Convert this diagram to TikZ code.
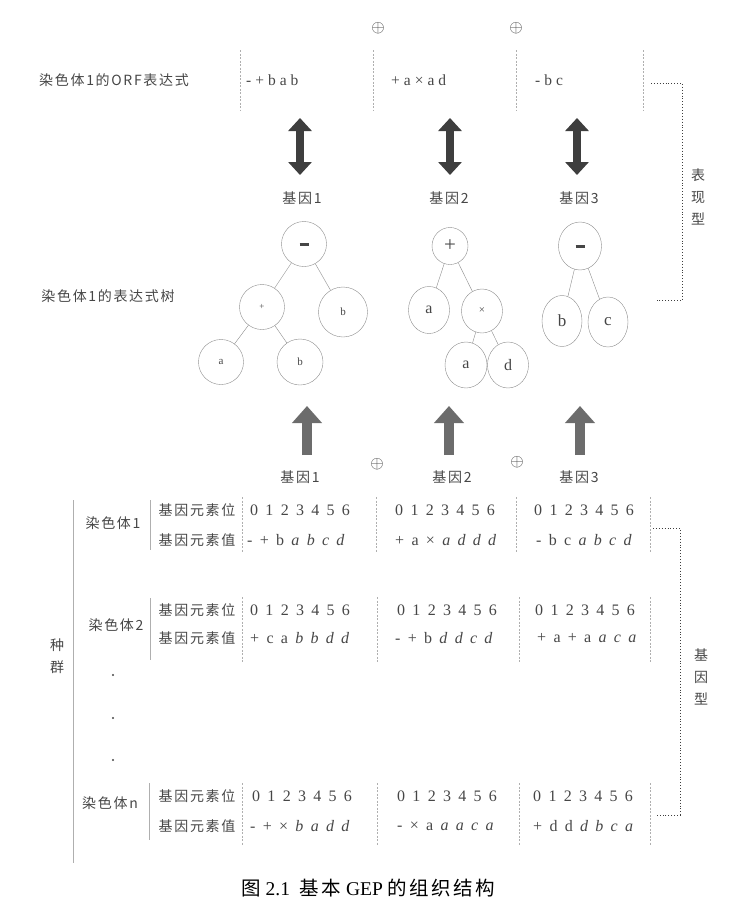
\documentclass[tikz,border=0pt]{standalone}
\usepackage{fontspec}
\setmainfont{Liberation Serif}
\newfontfamily\cjk{Noto Sans CJK SC}[LetterSpace=12]
\usetikzlibrary{arrows.meta,shapes.geometric}
\definecolor{geInk}{RGB}{70,70,70}
\definecolor{geLine}{RGB}{140,140,140}
\definecolor{geSepc}{RGB}{175,175,175}
\definecolor{geDark}{RGB}{62,62,62}
\definecolor{geUpc}{RGB}{108,108,108}
\newcommand\geWide{\spaceskip 7.3pt\relax}
\newcommand\geNarrow{\spaceskip 4pt\relax}
\newcommand\geMinus{\rule{9pt}{3pt}}
\tikzset{
  geLabel/.style={text=geInk, font=\cjk\fontsize{14}{22}\selectfont, inner sep=1pt,
                  align=center},
  geCell/.style={text=geInk, anchor=west, inner sep=0pt,
                 font=\fontsize{16}{18}\selectfont\geWide},
  geOrf/.style={text=geInk, anchor=west, inner sep=0pt,
                font=\fontsize{15.5}{18}\selectfont\geNarrow},
  geMark/.style={text=geDark, inner sep=0pt, font=\fontsize{17}{17}\selectfont},
  geKnot/.style 2 args={draw=geLine, thin, ellipse, inner sep=0pt, text=geInk,
                        minimum width=#1, minimum height=#2},
  geEdge/.style={draw=geLine, thin},
  geSep/.style={draw=geSepc, thin, dashed, dash pattern=on 2pt off 1.5pt},
  geBar/.style={draw=geSepc, thin},
  geBracket/.style={draw=geDark, line width=0.9pt, dotted},
  geDouble/.style={draw=geDark, line width=8pt,
                   {Triangle[length=13pt,width=23pt]}-{Triangle[length=13pt,width=23pt]}},
  geUp/.style={draw=geUpc, line width=10pt, -{Triangle[length=17pt,width=29pt]}},
  geCaption/.style={text=black, font=\fontsize{19.5}{22}\selectfont}
}

\begin{document}
\begin{tikzpicture}[x=1pt, y=-1pt]
  \useasboundingbox (0,0) rectangle (738,916);

  % ORF row
  \node[geMark] (orfop1) at (378,28) {$\oplus$};
  \node[geMark] (orfop2) at (516,28) {$\oplus$};
  \node[geLabel] (orfname) at (114,80) {染色体1的ORF表达式};
  \node[geOrf] (orf1) at (246,80) {- + b a b};
  \node[geOrf] (orf2) at (391,80) {+ a × a d};
  \node[geOrf] (orf3) at (535,80) {- b c};
  \foreach \x in {240,373,516,643}
    \draw[geSep] (\x,50) -- (\x,110);

  \coordinate (dt1) at (300,118); \coordinate (db1) at (300,175);
  \coordinate (dt2) at (450,118); \coordinate (db2) at (450,175);
  \coordinate (dt3) at (577,118); \coordinate (db3) at (577,175);
  \draw[geDouble] (dt1) -- (db1);
  \draw[geDouble] (dt2) -- (db2);
  \draw[geDouble] (dt3) -- (db3);

  \node[geLabel] (gt1) at (302,198) {基因1};
  \node[geLabel] (gt2) at (449,198) {基因2};
  \node[geLabel] (gt3) at (579,198) {基因3};

  % expression trees
  \node[geLabel] (treename) at (108,296) {染色体1的表达式树};

  \node[geKnot={45pt}{45pt}] (ta) at (304,244) {\geMinus};
  \node[geKnot={45pt}{45pt}, font=\fontsize{9}{9}\selectfont] (tb) at (262,307) {+};
  \node[geKnot={49pt}{50pt}, font=\fontsize{11}{11}\selectfont] (tc) at (343,312) {b};
  \node[geKnot={45pt}{45pt}, font=\fontsize{11}{11}\selectfont] (td) at (221,362) {a};
  \node[geKnot={46pt}{46pt}, font=\fontsize{11}{11}\selectfont] (te) at (300,362) {b};
  \draw[geEdge] (ta) -- (tb);
  \draw[geEdge] (ta) -- (tc);
  \draw[geEdge] (tb) -- (td);
  \draw[geEdge] (tb) -- (te);

  \node[geKnot={36pt}{37pt}, font=\fontsize{21}{21}\selectfont] (ua) at (450,246) {+};
  \node[geKnot={41pt}{47pt}, font=\fontsize{16}{16}\selectfont] (ub) at (429,310) {a};
  \node[geKnot={41pt}{44pt}, font=\fontsize{11}{11}\selectfont] (uc) at (482,311) {×};
  \node[geKnot={42pt}{46pt}, font=\fontsize{16}{16}\selectfont] (ud) at (466,365) {a};
  \node[geKnot={41pt}{46pt}, font=\fontsize{16}{16}\selectfont] (ue) at (508,365) {d};
  \draw[geEdge] (ua) -- (ub);
  \draw[geEdge] (ua) -- (uc);
  \draw[geEdge] (uc) -- (ud);
  \draw[geEdge] (uc) -- (ue);

  \node[geKnot={43pt}{48pt}] (va) at (580,246) {\geMinus};
  \node[geKnot={40pt}{51pt}, font=\fontsize{17}{17}\selectfont] (vb) at (562,321) {b};
  \node[geKnot={40pt}{50pt}, font=\fontsize{17}{17}\selectfont] (vc) at (608,322) {c};
  \draw[geEdge] (va) -- (vb);
  \draw[geEdge] (va) -- (vc);

  % phenotype bracket
  \draw[geBracket] (651,83) -- (682,83) -- (682,300) -- (657,300);
  \node[geLabel] (pheno) at (698,197) {表\\现\\型};

  % up arrows
  \coordinate (ub1) at (307,455); \coordinate (ut1) at (307,406);
  \coordinate (ub2) at (449,455); \coordinate (ut2) at (449,406);
  \coordinate (ub3) at (580,455); \coordinate (ut3) at (580,406);
  \draw[geUp] (ub1) -- (ut1);
  \draw[geUp] (ub2) -- (ut2);
  \draw[geUp] (ub3) -- (ut3);

  \node[geMark] (genop1) at (377,464) {$\oplus$};
  \node[geMark] (genop2) at (517,462) {$\oplus$};
  \node[geLabel] (gb1) at (300,477) {基因1};
  \node[geLabel] (gb2) at (452,477) {基因2};
  \node[geLabel] (gb3) at (579,477) {基因3};

  % population
  \draw[geBar] (73,500) -- (73,863);
  \node[geLabel] (pop) at (57,656) {种\\群};

  % chromosome 1
  \node[geLabel] (c1) at (113,523) {染色体1};
  \draw[geBar] (150,500) -- (150,550);
  \node[geLabel] (c1p) at (197,510) {基因元素位};
  \node[geLabel] (c1v) at (197,540) {基因元素值};
  \node[geCell] (p11) at (250,510) {0 1 2 3 4 5 6};
  \node[geCell] (p12) at (395,510) {0 1 2 3 4 5 6};
  \node[geCell] (p13) at (534,510) {0 1 2 3 4 5 6};
  \node[geCell] (v11) at (247,540) {- + b \textit{a b c d}};
  \node[geCell] (v12) at (395,540) {+ a × \textit{a d d d}};
  \node[geCell] (v13) at (536,540) {- b c \textit{a b c d}};
  \foreach \x in {242,376,516,650}
    \draw[geSep] (\x,497) -- (\x,552);

  % chromosome 2
  \node[geLabel] (c2) at (116,625) {染色体2};
  \draw[geBar] (150,598) -- (150,660);
  \node[geLabel] (c2p) at (197,610) {基因元素位};
  \node[geLabel] (c2v) at (197,638) {基因元素值};
  \node[geCell] (p21) at (250,610) {0 1 2 3 4 5 6};
  \node[geCell] (p22) at (397,610) {0 1 2 3 4 5 6};
  \node[geCell] (p23) at (535,610) {0 1 2 3 4 5 6};
  \node[geCell] (v21) at (250,638) {+ c a \textit{b b d d}};
  \node[geCell] (v22) at (395,638) {- + b \textit{d d c d}};
  \node[geCell] (v23) at (537,638) {+ a + a \textit{a c a}};
  \foreach \x in {242,377,519,650}
    \draw[geSep] (\x,597) -- (\x,662);

  \fill[geInk] (113,675) circle (1.2pt) (113,718) circle (1.2pt) (113,760) circle (1.2pt);

  % chromosome n
  \node[geLabel] (cn) at (110,803) {染色体n};
  \draw[geBar] (149,783) -- (149,840);
  \node[geLabel] (cnp) at (197,796) {基因元素位};
  \node[geLabel] (cnv) at (197,826) {基因元素值};
  \node[geCell] (pn1) at (252,796) {0 1 2 3 4 5 6};
  \node[geCell] (pn2) at (397,796) {0 1 2 3 4 5 6};
  \node[geCell] (pn3) at (533,796) {0 1 2 3 4 5 6};
  \node[geCell] (vn1) at (250,826) {- + × \textit{b a d d}};
  \node[geCell] (vn2) at (397,826) {- × a \textit{a a c a}};
  \node[geCell] (vn3) at (533,826) {+ d d \textit{d b c a}};
  \foreach \x in {242,377,519,650}
    \draw[geSep] (\x,783) -- (\x,845);

  % genotype bracket
  \draw[geBracket] (653,528) -- (680,528) -- (680,815) -- (655,815);
  \node[geLabel] (geno) at (701,677) {基\\因\\型};

  \node[geCaption] (cap) at (368,888) {{\cjk 图} 2.1\enspace{\cjk 基本} GEP {\cjk 的组织结构}};
\end{tikzpicture}
\end{document}
